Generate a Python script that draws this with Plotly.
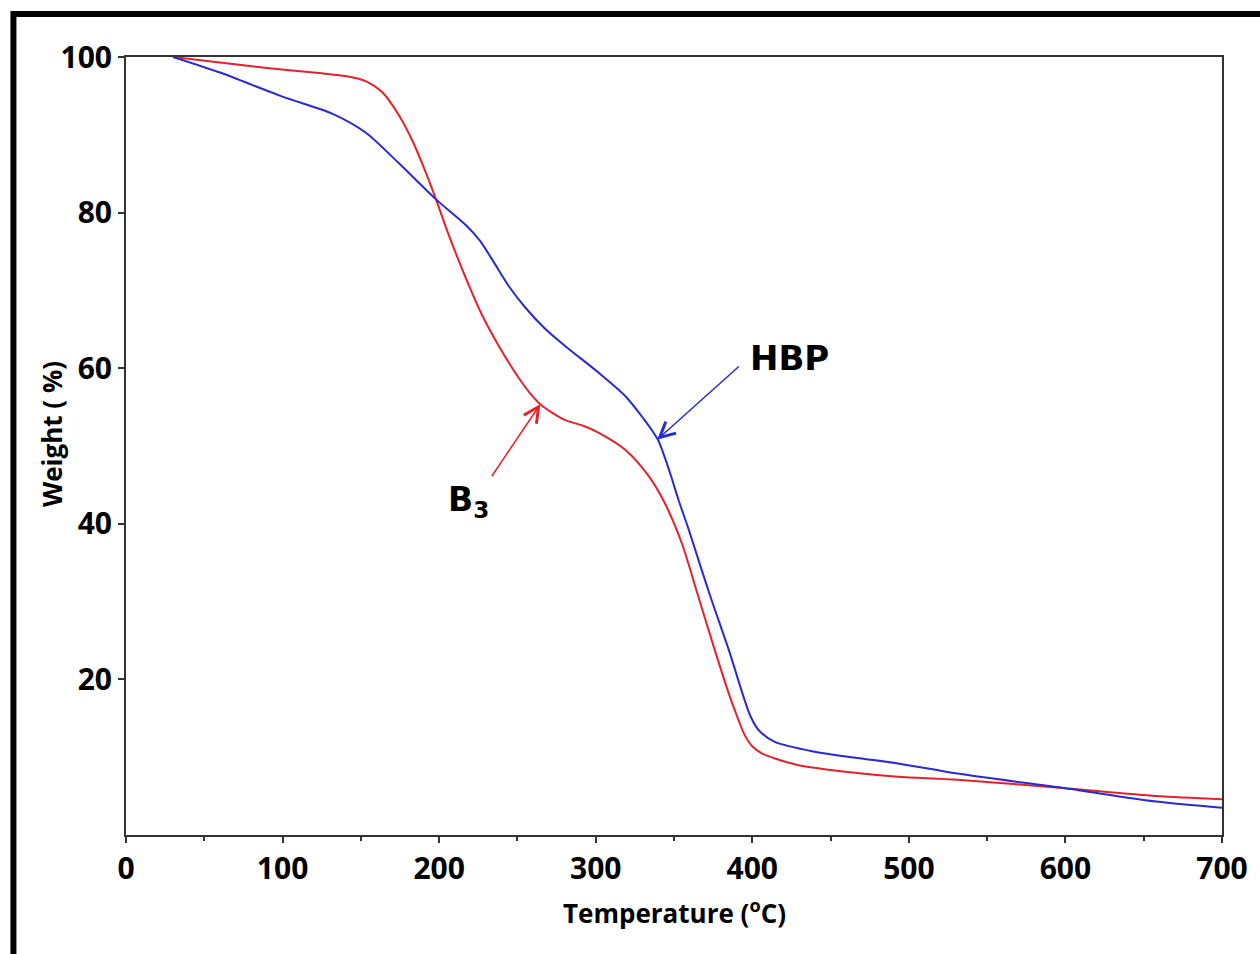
import plotly.graph_objects as go

# Temperature (°C) and weight (%)
b3_temp = [30, 60, 90, 120, 142, 153, 164, 174, 183, 191, 198, 206, 217, 227, 238, 251, 258, 265,
           272, 281, 292, 302, 319, 334, 344, 355, 365, 376, 386, 391, 395, 400, 406, 415, 429,
           461, 493, 531, 600, 658, 700]
b3_weight = [100, 99.3, 98.6, 98.0, 97.5, 96.9, 95.4, 92.6, 89.2, 85.4, 81.7, 77.2, 71.6, 67.0,
             62.9, 58.7, 56.8, 55.3, 54.3, 53.3, 52.6, 51.7, 49.5, 46.1, 42.7, 37.5, 31.0, 23.8,
             17.6, 14.9, 12.9, 11.4, 10.5, 9.8, 9.0, 8.1, 7.5, 7.1, 6.0, 5.0, 4.6]

hbp_temp = [30, 60, 100, 132, 153, 174, 198, 217, 226, 235, 245, 255, 268, 282, 302, 319, 331,
            336, 340, 344, 348, 353, 359, 367, 374, 385, 395, 399, 404, 414, 440, 467, 493, 531,
            600, 658, 700]
hbp_weight = [100, 98.0, 94.9, 92.7, 90.3, 86.4, 81.7, 78.4, 76.4, 73.6, 70.4, 67.8, 65.0, 62.6,
              59.4, 56.4, 53.4, 52.0, 50.7, 48.6, 46.2, 43.0, 39.5, 34.5, 30.2, 23.8, 17.4, 15.2,
              13.5, 12.0, 10.7, 9.9, 9.2, 7.9, 6.0, 4.3, 3.5]

x_ticks = [0, 100, 200, 300, 400, 500, 600, 700]
y_ticks = [20, 40, 60, 80, 100]

RED = "#e8202a"
BLUE = "#2a2ad2"
FONT = "Open Sans"
LABEL_FONT = "DejaVu Sans"

fig = go.Figure()
fig.add_trace(go.Scatter(x=b3_temp, y=b3_weight, mode="lines", name="B3",
                         line=dict(color=RED, width=2, shape="spline", smoothing=0.8)))
fig.add_trace(go.Scatter(x=hbp_temp, y=hbp_weight, mode="lines", name="HBP",
                         line=dict(color=BLUE, width=2, shape="spline", smoothing=0.8)))

axis_common = dict(showline=True, linecolor="#333333", linewidth=2, mirror=True,
                   showgrid=False, zeroline=False, ticks="outside", ticklen=6, tickwidth=2,
                   tickcolor="#333333",
                   tickfont=dict(family=FONT, size=30, color="black", weight="bold"))

fig.update_xaxes(range=[0, 700], tickvals=x_ticks, ticktext=[str(v) for v in x_ticks],
                 minor=dict(ticks="outside", dtick=50, tick0=0, ticklen=4, tickwidth=2,
                            tickcolor="#333333"),
                 **axis_common)
fig.update_yaxes(range=[0, 100], tickvals=y_ticks, ticktext=[str(v) for v in y_ticks],
                 **axis_common)

annotations = [
    # axis titles
    dict(text="Temperature (<sup>o</sup>C)", xref="paper", yref="paper", x=0.5, y=-0.099,
         showarrow=False, font=dict(family=FONT, size=26, color="black", weight="bold"),
         xanchor="center", yanchor="middle"),
    dict(text="Weight ( %)", xref="paper", yref="paper", x=-0.067, y=0.515, textangle=-90,
         showarrow=False, font=dict(family=FONT, size=26, color="black", weight="bold"),
         xanchor="center", yanchor="middle"),
    # curve labels with arrows (tail at the label box, head on the curve)
    dict(text="HBP", x=339.2, y=50.8, ax=397.1, ay=61.25, xref="x", yref="y",
         axref="x", ayref="y", showarrow=True, arrowhead=5, arrowsize=2.0,
         arrowwidth=1.5, arrowcolor=BLUE, startstandoff=12,
         xanchor="left", yanchor="middle",
         font=dict(family=LABEL_FONT, size=34, color="black", weight="bold")),
    dict(text="B<sub>3</sub>", x=264.7, y=55.4, ax=232.9, ay=45.9, xref="x", yref="y",
         axref="x", ayref="y", showarrow=True, arrowhead=5, arrowsize=2.0,
         arrowwidth=1.5, arrowcolor=RED, startstandoff=2,
         xanchor="right", yanchor="top",
         font=dict(family=LABEL_FONT, size=33, color="black", weight="bold")),
]

fig.update_layout(
    width=1260, height=954,
    margin=dict(l=126, r=34, t=57, b=119),
    paper_bgcolor="white", plot_bgcolor="white",
    showlegend=False,
    annotations=annotations,
    shapes=[dict(type="rect", xref="paper", yref="paper",
                 x0=-0.1027, x1=1.06, y0=-0.2, y1=1.0553,
                 line=dict(color="black", width=6), fillcolor="rgba(0,0,0,0)", layer="above")],
)

fig.write_html("out.html", config={"displayModeBar": False},
               post_script="document.body.style.margin='0';")
